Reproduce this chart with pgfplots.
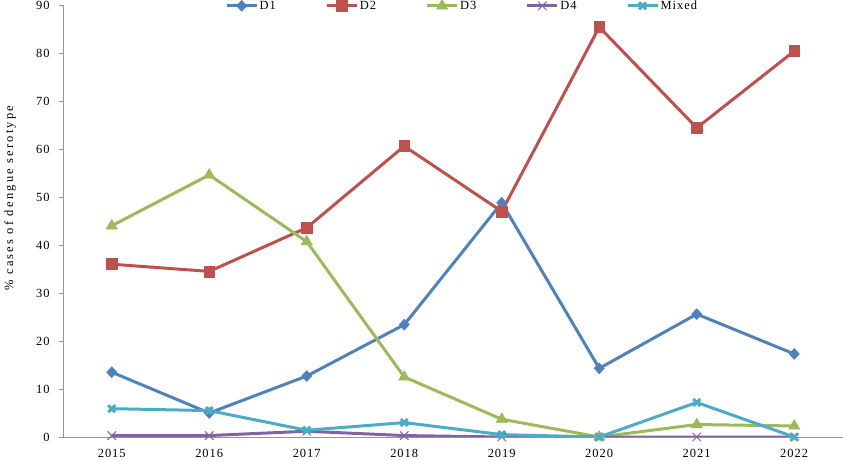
\documentclass[border=0pt]{standalone}
\usepackage{pgfplots}
\pgfplotsset{compat=1.18}
\usetikzlibrary{calc}
\usepackage{fontspec}
\setmainfont[LetterSpace=8]{Liberation Serif}
\definecolor{cD1}{HTML}{4F81BD}
\definecolor{cD2}{HTML}{C0504D}
\definecolor{cD3}{HTML}{9BBB59}
\definecolor{cD4}{HTML}{8064A2}
\definecolor{cMx}{HTML}{4BACC6}
\begin{document}
\fontsize{12.5}{15}\selectfont
\begin{tikzpicture}
\begin{axis}[
  name=ax,
  scale only axis,
  width=780bp, height=432bp,
  xmin=2014.5, xmax=2022.5,
  ymin=0, ymax=90,
  ytick={0,10,...,90},
  xtick={2015,...,2022},
  xticklabel style={/pgf/number format/1000 sep=},
  /pgf/number format/assume math mode=true,
  axis x line=bottom, axis y line=left,
  axis line style={-, color=gray!85, line width=0.8pt},
  x axis line style={-},
  y axis line style={-},
  major tick length=4bp,
  xtick style={draw=none},
  ytick style={color=gray!85, line width=0.8pt},
  tick align=outside,
  ylabel={\addfontfeatures{LetterSpace=18}\% cases of dengue serotype},
  ylabel style={at={(axis description cs:-0.068,0.553)}, anchor=center},
  yticklabel style={xshift=-5bp},
  xticklabel style={yshift=-4bp},
  every axis plot/.append style={line width=3pt, line join=round},
  legend image code/.code={%
    \draw[mark repeat=2,mark phase=2] plot coordinates {(0bp,0bp) (15bp,0bp) (30bp,0bp)};},
  legend style={draw=none, fill=none, inner sep=0pt, at={(axis description cs:0.2077,0.998)}, anchor=west,
    legend columns=5, nodes={inner sep=1.5bp},
    /tikz/every even column/.append style={column sep=48bp}},
  legend cell align=left,
]
\addplot[color=cD1, mark=diamond*, mark size=5.5pt, mark options={xscale=1.25, line width=0.5pt}] coordinates {
(2015,13.5) (2016,5.0) (2017,12.7) (2018,23.4) (2019,48.8) (2020,14.3) (2021,25.6) (2022,17.3)};
\addlegendentry{D1}
\addplot[color=cD2, mark=square*, mark size=5.5pt, mark options={line width=0.5pt}] coordinates {
(2015,36.0) (2016,34.5) (2017,43.6) (2018,60.6) (2019,47.0) (2020,85.4) (2021,64.4) (2022,80.4)};
\addlegendentry{D2}
\addplot[color=cD3, mark=triangle*, mark size=6.5pt, mark options={line width=0.5pt}] coordinates {
(2015,44.0) (2016,54.6) (2017,40.7) (2018,12.5) (2019,3.7) (2020,0.0) (2021,2.6) (2022,2.3)};
\addlegendentry{D3}
\addplot[color=cD4, mark=x, mark size=6pt, mark options={line width=1pt}] coordinates {
(2015,0.3) (2016,0.3) (2017,1.2) (2018,0.3) (2019,0.0) (2020,0.0) (2021,0.0) (2022,0.0)};
\addlegendentry{D4}
\addplot[color=cMx, mark=x, mark size=5pt, mark options={line width=3pt}] coordinates {
(2015,5.9) (2016,5.5) (2017,1.4) (2018,3.0) (2019,0.5) (2020,0.0) (2021,7.2) (2022,0.0)};
\addlegendentry{Mixed}
\end{axis}
\pgfresetboundingbox
\path[use as bounding box] ($(ax.south west)+(-63bp,-24bp)$) rectangle ($(ax.north east)+(0bp,5bp)$);
\end{tikzpicture}
\end{document}
